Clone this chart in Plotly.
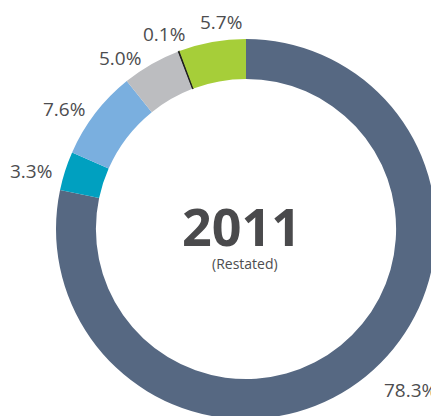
import plotly.graph_objects as go

# segment shares, clockwise from 12 o'clock
segments = ['Main', 'Teal', 'Light blue', 'Grey', 'Black', 'Green']
shares = [78.3, 3.3, 7.6, 5.0, 0.1, 5.7]
share_labels = ['78.3%', '3.3%', '7.6%', '5.0%', '0.1%', '5.7%']
colors = ['#566882', '#00a0c0', '#7aafdf', '#bcbdc0', '#1a1a1a', '#a6ce39']

# label positions in page pixels (x, y from top)
label_pos = [(410, 390), (31, 171), (64, 109), (120, 58), (164, 34), (221, 22)]

OFF = 8  # default body margin of the html page
W, H = 431, 412
ML, MT, PW, PH = 56 - OFF, 39 - OFF, 380, 380

fig = go.Figure(go.Pie(
    labels=segments,
    values=shares,
    sort=False,
    direction='clockwise',
    rotation=0,
    hole=0.79,
    textinfo='none',
    hoverinfo='skip',
    marker=dict(colors=colors,
                line=dict(color=colors, width=[0, 0, 0, 0, 1, 0])),
))


def px_to_paper(x, y):
    x, y = x - OFF, y - OFF
    return (x - ML) / PW, (H - y - (H - MT - PH)) / PH


annotations = []
for txt, (x, y) in zip(share_labels, label_pos):
    ax, ay = px_to_paper(x, y)
    annotations.append(dict(x=ax, y=ay, xref='paper', yref='paper', text=txt,
                            showarrow=False, xanchor='center', yanchor='middle',
                            font=dict(size=19, color='#4d4d4f')))

cx, cy = px_to_paper(241, 225)
annotations.append(dict(x=cx, y=cy, xref='paper', yref='paper', text='<b>2011</b>',
                        showarrow=False, xanchor='center', yanchor='middle',
                        font=dict(size=52, color='#4a4a4c')))
rx, ry = px_to_paper(245, 264)
annotations.append(dict(x=rx, y=ry, xref='paper', yref='paper', text='(Restated)',
                        showarrow=False, xanchor='center', yanchor='middle',
                        font=dict(size=14, color='#4d4d4f')))

fig.update_layout(
    width=W, height=H,
    margin=dict(l=ML, r=W - ML - PW, t=MT, b=H - MT - PH, autoexpand=False),
    paper_bgcolor='white',
    plot_bgcolor='white',
    showlegend=False,
    font=dict(family='Open Sans'),
    annotations=annotations,
)

fig.write_html('out.html', config={'displayModeBar': False})
